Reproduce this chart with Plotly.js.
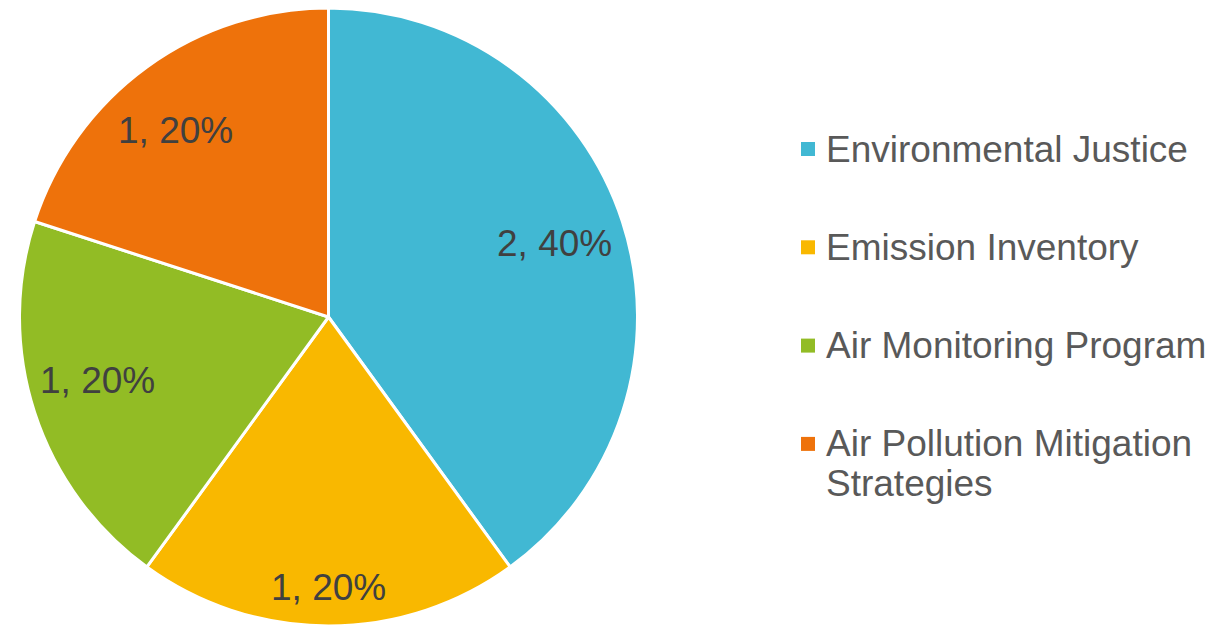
<!DOCTYPE html>
<html>
<head>
<meta charset="utf-8">
<script src="https://cdn.plot.ly/plotly-3.0.1.min.js"></script>
<style>
html, body { margin: 0; padding: 0; overflow: hidden; background: #fff; }
#chart { width: 1227px; height: 634px; }
</style>
</head>
<body>
<div id="chart"></div>
<script>
// ---- data ----
const categories = ["Environmental Justice", "Emission Inventory", "Air Monitoring Program", "Air Pollution Mitigation<br>Strategies"];
const counts = [2, 1, 1, 1];
const colors = ["#41B8D3", "#F9B800", "#92BC25", "#EE720B"];

// ---- layout / style constants ----
const W = 1227, H = 634;
const FONT = "'Liberation Sans', Arial, sans-serif";
const cx = 328.5, cy = 317, R = 309;              // pie centre / radius in px
const labelRadius = [0.77, 0.875, 0.775, 0.78];    // data-label distance (fraction of radius)
const labelAngleShift = [0, 0, 2.7, -3.4];         // degrees, best-fit nudge along the arc
const legendX = 824, legendSymX = 808, legendTop = 149, legendStep = 98.3, legendLineStep = 40;

const px = x => x / W;
const py = y => 1 - y / H;

const total = counts.reduce((a, b) => a + b, 0);

const trace = {
  type: "pie",
  labels: categories,
  values: counts,
  sort: false,
  direction: "clockwise",
  rotation: 0,
  marker: { colors: colors, line: { color: "#ffffff", width: 3 } },
  textinfo: "none",
  textposition: "none",
  hoverinfo: "label+value+percent",
  showlegend: false,
  domain: { x: [px(cx - R), px(cx + R)], y: [py(cy + R), py(cy - R)] }
};

const annotations = [];
const shapes = [];

// data labels "value, percent" placed along each slice's bisector
let cum = 0;
counts.forEach((v, i) => {
  const mid = (cum + v / 2) / total * 2 * Math.PI + labelAngleShift[i] * Math.PI / 180; // clockwise from 12 o'clock
  cum += v;
  const r = R * labelRadius[i];
  const x = cx + r * Math.sin(mid);
  const y = cy - r * Math.cos(mid);
  annotations.push({
    xref: "paper", yref: "paper",
    x: px(x), y: py(y),
    xanchor: "center", yanchor: "middle",
    text: v + ", " + Math.round(v / total * 100) + "%",
    showarrow: false,
    font: { family: FONT, size: 37, color: "#404040" }
  });
});

// legend (square symbol + category text)
categories.forEach((cat, i) => {
  const rowY = legendTop + i * legendStep;
  shapes.push({
    type: "rect", xref: "paper", yref: "paper",
    x0: px(legendSymX - 7), x1: px(legendSymX + 7),
    y0: py(rowY + 7), y1: py(rowY - 7),
    fillcolor: colors[i], line: { width: 0 }
  });
  cat.split("<br>").forEach((line, j) => {
    annotations.push({
      xref: "paper", yref: "paper",
      x: px(legendX), y: py(rowY + j * legendLineStep),
      xanchor: "left", yanchor: "middle",
      text: line,
      showarrow: false,
      font: { family: FONT, size: 37, color: "#595959" }
    });
  });
});

const layout = {
  width: W,
  height: H,
  margin: { l: 0, r: 0, t: 0, b: 0 },
  paper_bgcolor: "#ffffff",
  showlegend: false,
  annotations: annotations,
  shapes: shapes
};

Plotly.newPlot("chart", [trace], layout, { displayModeBar: false, staticPlot: true });
</script>
</body>
</html>
